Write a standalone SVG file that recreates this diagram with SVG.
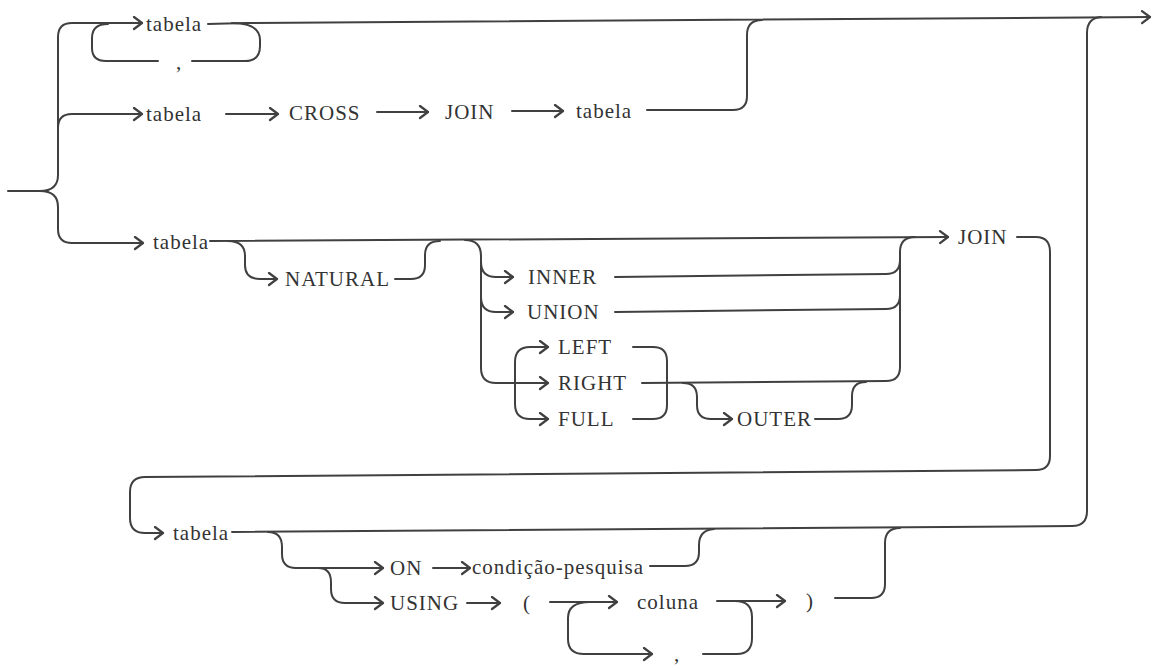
<svg xmlns="http://www.w3.org/2000/svg" width="1157" height="670" viewBox="0 0 1157 670">
<style>
.c{fill:none;stroke:#404040;stroke-width:2;stroke-linecap:round;stroke-linejoin:round}
.a{marker-end:url(#ah)}
.t{font-family:'Liberation Serif','DejaVu Serif','Times New Roman',serif;font-size:21px;letter-spacing:1px;fill:#333}
</style>
<defs>
<marker id="ah" markerUnits="userSpaceOnUse" markerWidth="14" markerHeight="16" refX="10" refY="7" orient="auto">
<path d="M2,1 L10,7 L2,13" fill="none" stroke="#404040" stroke-width="2.2" stroke-linecap="round" stroke-linejoin="round"/>
</marker>
</defs>
<rect width="1157" height="670" fill="#fff"/>
<g id="connectors">
<path class="c a" d="M8,191 H40 C52,191 58,185 58,175 V37 Q58,23 72,23 H142"/>
<path class="c a" d="M58,128 Q58,114 72,114 H142"/>
<path class="c a" d="M40,191 C52,191 58,197 58,207 V229 Q58,243 72,243 H143"/>
<path class="c a" d="M208,24 L245,23 L1150,17"/>
<path class="c" d="M232,23 Q260,23 260,40 V46 Q260,61 245,61 H192"/>
<path class="c" d="M158,61 H106 Q92,61 92,48 V38 Q92,24 108,24"/>
<path class="c a" d="M226,114 H278"/>
<path class="c a" d="M377,112 H428"/>
<path class="c a" d="M512,111 H563"/>
<path class="c" d="M647,110 H733 Q747,110 747,96 V35 Q747,20 762,20"/>
<path class="c" d="M232,532 L1072,526 Q1087,526 1087,511 V33 Q1087,18 1101,17"/>
<path class="c a" d="M210,241 L948,237"/>
<path class="c a" d="M228,241 Q245,241 245,256 V265 Q245,279 260,279 H277"/>
<path class="c" d="M395,279 H411 Q425,279 425,265 V255 Q425,241 440,241"/>
<path class="c a" d="M465,240 Q481,240 481,256 V368 Q481,383 496,383 H548"/>
<path class="c a" d="M481,262 Q481,277 496,277 H513"/>
<path class="c a" d="M481,297 Q481,312 496,312 H513"/>
<path class="c" d="M615,277 L886,274 Q900,274 900,260"/>
<path class="c" d="M615,312 L886,309 Q900,309 900,295"/>
<path class="c" d="M642,383 L886,381 Q900,381 900,367 V252 Q900,237 915,237"/>
<path class="c a" d="M515,383 V362 Q515,347 530,347 H548"/>
<path class="c a" d="M515,383 V404 Q515,419 530,419 H548"/>
<path class="c" d="M633,347 H653 Q667,347 667,361 V405 Q667,419 653,419 H633"/>
<path class="c a" d="M683,383 Q697,383 697,397 V405 Q697,419 711,419 H732"/>
<path class="c" d="M815,419 H838 Q852,419 852,405 V396 Q852,382 866,382"/>
<path class="c a" d="M1017,237 H1036 Q1050,237 1050,252 V456 Q1050,470 1036,470 L145,477 Q130,477 130,492 V518 Q130,533 145,533 H163"/>
<path class="c a" d="M268,532 Q282,532 282,547 V554 Q282,568 296,568 H383"/>
<path class="c a" d="M318,568 Q331,568 331,582 V589 Q331,603 345,603 H383"/>
<path class="c a" d="M433,568 H470"/>
<path class="c" d="M650,566 H685 Q699,566 699,552 V545 Q699,530 714,529"/>
<path class="c a" d="M467,603 H500"/>
<path class="c a" d="M550,602 H617"/>
<path class="c a" d="M717,601 H785"/>
<path class="c" d="M835,598 H871 Q885,598 885,584 V543 Q885,528 900,528"/>
<path class="c a" d="M590,602 Q568,602 568,618 V639 Q568,654 584,654 H652"/>
<path class="c" d="M703,654 H737 Q752,654 752,638 V617 Q752,601 735,601"/>
</g>
<g class="t" font-family="Liberation Serif, DejaVu Serif, serif">
<g id="n-tabela1"><text x="146" y="31">tabela</text></g>
<g id="n-comma1"><text x="176" y="69">,</text></g>
<g id="n-tabela2"><text x="146" y="121">tabela</text></g>
<g id="n-cross"><text x="289" y="120">CROSS</text></g>
<g id="n-join1"><text x="445" y="119">JOIN</text></g>
<g id="n-tabela3"><text x="576" y="118">tabela</text></g>
<g id="n-tabela4"><text x="153" y="249">tabela</text></g>
<g id="n-natural"><text x="285" y="286">NATURAL</text></g>
<g id="n-inner"><text x="528" y="284">INNER</text></g>
<g id="n-union"><text x="527" y="319">UNION</text></g>
<g id="n-left"><text x="558" y="354">LEFT</text></g>
<g id="n-right"><text x="558" y="390">RIGHT</text></g>
<g id="n-full"><text x="558" y="426">FULL</text></g>
<g id="n-outer"><text x="737" y="426">OUTER</text></g>
<g id="n-join2"><text x="958" y="244">JOIN</text></g>
<g id="n-tabela5"><text x="173" y="540">tabela</text></g>
<g id="n-on"><text x="390" y="575">ON</text></g>
<g id="n-cond"><text x="472" y="574">condição-pesquisa</text></g>
<g id="n-using"><text x="390" y="610">USING</text></g>
<g id="n-lparen"><text x="523" y="610">(</text></g>
<g id="n-coluna"><text x="637" y="609">coluna</text></g>
<g id="n-rparen"><text x="806" y="608">)</text></g>
<g id="n-comma2"><text x="674" y="661">,</text></g>
</g>
</svg>
